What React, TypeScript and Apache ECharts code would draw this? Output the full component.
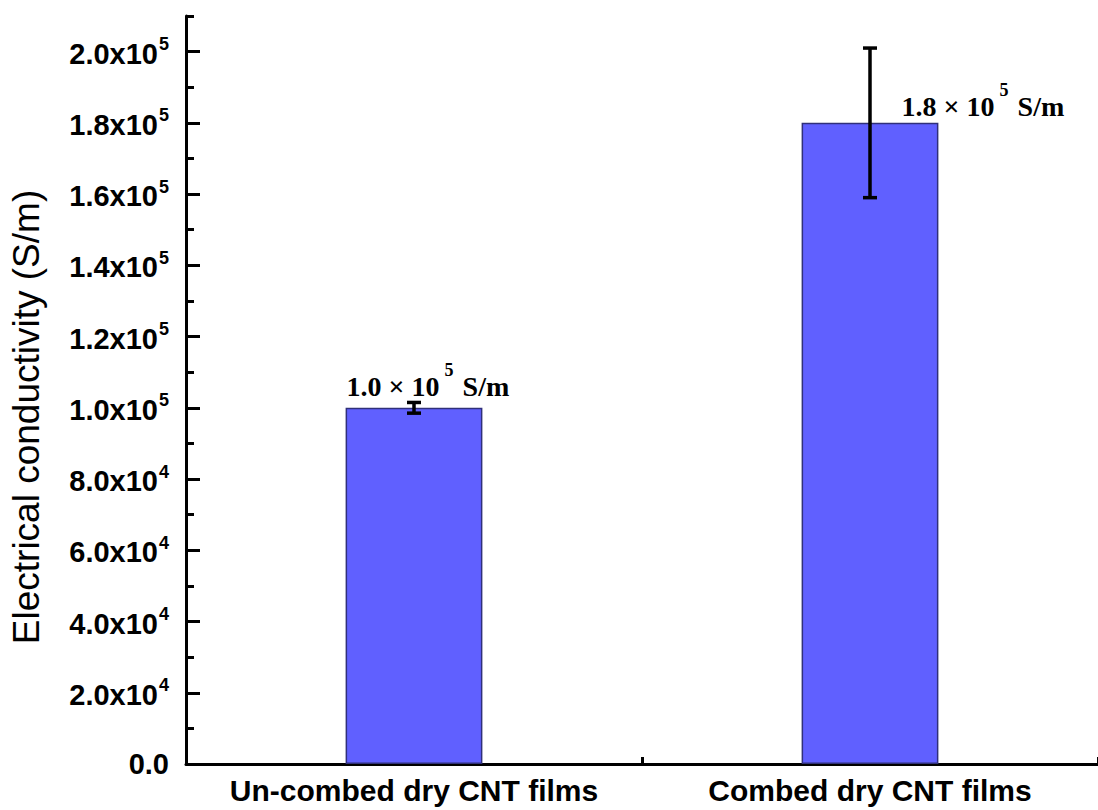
import React, { useEffect, useRef } from "react";
import * as echarts from "echarts";

const categories = ["Un-combed dry CNT films", "Combed dry CNT films"];
const conductivity = [1.0e5, 1.8e5];
const errorMargins = [1500, 21000];
const majorTicks = [0, 2e4, 4e4, 6e4, 8e4, 1e5, 1.2e5, 1.4e5, 1.6e5, 1.8e5, 2e5];
const minorTicks = [1e4, 3e4, 5e4, 7e4, 9e4, 1.1e5, 1.3e5, 1.5e5, 1.7e5, 1.9e5, 2.1e5];
const yMin = 0;
const yMax = 2.1e5;
const yTitle = "Electrical conductivity (S/m)";
const annotationExponent = 5;

const SANS = "'Liberation Sans', Arial, sans-serif";
const SERIF = "'Liberation Serif', 'Times New Roman', serif";

function sciLabel(v: number): string {
  if (v === 0) return "{b|0.0}";
  const e = Math.floor(Math.log10(v) + 1e-9);
  const m = (v / Math.pow(10, e)).toFixed(1);
  return `{b|${m}x10}{s|${e}}`;
}

export default function App() {
  const ref = useRef<HTMLDivElement>(null);
  useEffect(() => {
    if (!ref.current) return;
    const chart = echarts.init(ref.current, undefined, { renderer: "svg" });
    const labelPositions: any[] = [
      [1, -7],
      [100, -2],
    ];
    const option: any = {
      animation: false,
      backgroundColor: "#fff",
      grid: { left: 186, right: -8, top: 16, bottom: 46, containLabel: false },
      xAxis: [
        {
          type: "category",
          data: categories,
          position: "bottom",
          boundaryGap: true,
          axisLine: { show: true, lineStyle: { color: "#000", width: 3 } },
          axisTick: {
            show: true,
            inside: true,
            length: 7,
            alignWithLabel: false,
            interval: 0,
            lineStyle: { color: "#000", width: 3 },
          },
          axisLabel: {
            interval: 0,
            margin: 11,
            color: "#000",
            fontFamily: SANS,
            fontWeight: "bold",
            fontSize: 30,
          },
          splitLine: { show: false },
        },
        {
          type: "category",
          data: categories,
          position: "bottom",
          boundaryGap: true,
          axisLine: { show: false },
          axisTick: {
            show: true,
            inside: true,
            length: 13,
            alignWithLabel: true,
            interval: 0,
            lineStyle: { color: "#000", width: 3 },
          },
          axisLabel: { show: false },
          splitLine: { show: false },
        },
      ],
      yAxis: [
        {
          type: "value",
          position: "left",
          min: yMin,
          max: yMax,
          name: yTitle,
          nameLocation: "middle",
          nameGap: 141,
          nameRotate: 90,
          nameTextStyle: {
            fontFamily: SANS,
            fontSize: 37,
            color: "#000",
            padding: [0, 54, 0, 0],
          },
          axisLine: { show: true, lineStyle: { color: "#000", width: 3 } },
          axisTick: {
            show: true,
            inside: true,
            length: 14,
            customValues: majorTicks,
            lineStyle: { color: "#000", width: 3 },
          },
          axisLabel: {
            customValues: majorTicks,
            margin: 17,
            color: "#000",
            formatter: (v: number) => sciLabel(v),
            rich: {
              b: {
                fontFamily: SANS,
                fontWeight: "bold",
                fontSize: 29,
                height: 29,
                lineHeight: 29,
                verticalAlign: "bottom",
                color: "#000",
              },
              s: {
                fontFamily: SANS,
                fontWeight: "bold",
                fontSize: 18,
                height: 18,
                lineHeight: 33,
                verticalAlign: "top",
                padding: [0, 0, 15, 1],
                color: "#000",
              },
            },
          },
          splitLine: { show: false },
        },
        {
          type: "value",
          position: "left",
          min: yMin,
          max: yMax,
          axisLine: { show: false },
          axisTick: {
            show: true,
            inside: true,
            length: 8,
            customValues: minorTicks,
            lineStyle: { color: "#000", width: 3 },
          },
          axisLabel: { show: false },
          splitLine: { show: false },
        },
      ],
      series: [
        {
          type: "bar",
          xAxisIndex: 0,
          yAxisIndex: 0,
          barWidth: "30%",
          itemStyle: { color: "#6060FF", borderColor: "#30307A", borderWidth: 1.5 },
          label: {
            show: true,
            align: "left",
            verticalAlign: "bottom",
            formatter: (p: any) =>
              `{m|${(p.value / Math.pow(10, annotationExponent)).toFixed(1)} × 10}{s|${annotationExponent}}{m| S/m}`,
            rich: {
              m: {
                fontFamily: SERIF,
                fontWeight: "bold",
                fontSize: 28,
                height: 28,
                lineHeight: 28,
                verticalAlign: "bottom",
                color: "#000",
              },
              s: {
                fontFamily: SERIF,
                fontWeight: "bold",
                fontSize: 18,
                height: 18,
                lineHeight: 40,
                verticalAlign: "top",
                padding: [0, 2, 22, 5],
                color: "#000",
              },
            },
          },
          data: conductivity.map((v, i) => ({ value: v, label: { position: labelPositions[i] } })),
          z: 2,
        },
        {
          type: "custom",
          xAxisIndex: 0,
          yAxisIndex: 0,
          z: 5,
          encode: { x: 0, y: [1, 2] },
          data: conductivity.map((v, i) => [i, v - errorMargins[i], v + errorMargins[i]]),
          renderItem: (params: any, api: any) => {
            const idx = api.value(0);
            const lo = api.coord([idx, api.value(1)]);
            const hi = api.coord([idx, api.value(2)]);
            const w = 7;
            const st = { stroke: "#000", lineWidth: 3.5 };
            return {
              type: "group",
              children: [
                { type: "line", shape: { x1: lo[0], y1: lo[1], x2: hi[0], y2: hi[1] }, style: st },
                { type: "line", shape: { x1: lo[0] - w, y1: lo[1], x2: lo[0] + w, y2: lo[1] }, style: st },
                { type: "line", shape: { x1: hi[0] - w, y1: hi[1], x2: hi[0] + w, y2: hi[1] }, style: st },
              ],
            };
          },
        },
      ],
    };
    chart.setOption(option);
    return () => chart.dispose();
  }, []);
  return (
    <div
      ref={ref}
      style={{ position: "absolute", left: 0, top: 0, width: 1098, height: 810, background: "#fff" }}
    />
  );
}
